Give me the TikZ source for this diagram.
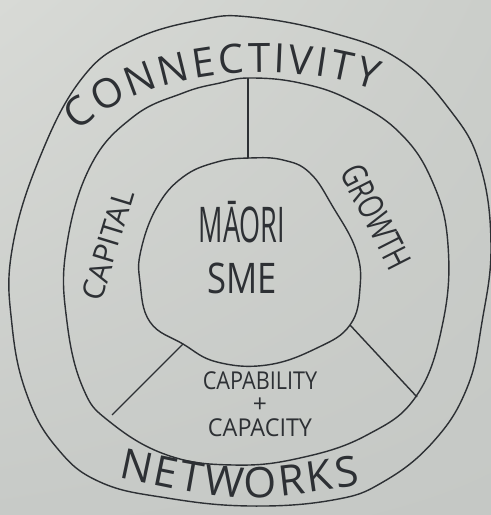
\documentclass[tikz,border=0pt]{standalone}
\usepackage{graphicx}
\usepackage{fontspec}
\newfontfamily\hand{Open Sans}
\usetikzlibrary{decorations.text, shadings}

\definecolor{boardA}{RGB}{216,218,214}
\definecolor{boardB}{RGB}{203,206,202}
\definecolor{boardC}{RGB}{199,202,199}
\definecolor{boardD}{RGB}{197,200,197}
\definecolor{ink}{RGB}{45,48,52}

\begin{document}
\begin{tikzpicture}[x=0.02cm, y=0.02cm,
  ring/.style={draw=ink, line width=0.8pt},
  word/.style={text=ink, inner sep=0pt}]

% Whiteboard
\shade[upper left=boardA, upper right=boardB, lower left=boardC, lower right=boardD]
  (0,0) rectangle (491,515);
\useasboundingbox (0,0) rectangle (491,515);

% Outer ring
\draw[ring] plot[smooth cycle, tension=0.7] coordinates {
  (250,498) (333,482) (400,455) (450,405) (480,350) (491,270)
  (482,193) (467,127) (433,73) (383,33) (333,15) (250,9) (167,17)
  (100,33) (57,67) (27,120) (12,190) (12,265) (40,358)
  (83,438) (133,475) (200,495)};

% Middle ring
\draw[ring] plot[smooth cycle, tension=0.7] coordinates {
  (250,437) (300,432) (350,415) (400,382) (433,332) (448,270)
  (443,193) (417,120) (367,80) (300,57) (233,50) (167,60) (110,93)
  (83,127) (67,193) (66,265) (90,348) (133,398) (183,422) (220,432)};

% Centre
\draw[ring] plot[smooth cycle, tension=0.7] coordinates {
  (250,357) (283,355) (310,342) (333,308) (356,265) (360,227)
  (350,190) (317,167) (267,150) (217,153) (183,171) (150,193) (140,233)
  (141,265) (157,308) (183,338) (217,353)};

% Spokes between centre and middle ring
\coordinate (topin) at (248,357);
\coordinate (topout) at (248,437);
\coordinate (leftin) at (183,171);
\coordinate (leftout) at (112,100);
\coordinate (rightin) at (350,190);
\coordinate (rightout) at (417,118);
\draw[ring] (topin) -- (topout);
\draw[ring] (leftin) -- (leftout);
\draw[ring] (rightin) -- (rightout);

% Text round the outer ring
\path[decorate, decoration={text along path, text color=ink, text align=fit to path,
  text={|\hand\fontsize{23}{23}\selectfont|CONNECTIVITY}}]
  (78,383) .. controls (150,450) and (290,455) .. (375,425);
\path[decorate, decoration={text along path, text color=ink, text align=fit to path,
  text={|\hand\fontsize{24}{24}\selectfont|NETWORKS}}]
  (118,38) .. controls (240,12) .. (360,30);

% Middle ring
\node[word, font=\hand\fontsize{17}{17}\selectfont, rotate=73] (capital) at (108,270) {CAPITAL};
\node[word, font=\hand\fontsize{20}{20}\selectfont, rotate=-63] (growth) at (376,298)
  {\scalebox{0.74}[1]{GROWTH}};
\node[word, font=\hand\fontsize{14}{13.5}\selectfont, align=center] (capab) at (260,111)
  {\scalebox{0.88}[1]{CAPABILITY}\\+\\\scalebox{0.95}[1]{CAPACITY}};

% Centre
\node[word, font=\hand\fontsize{28}{28}\selectfont] (maori) at (242,293) {\scalebox{0.55}[1]{MĀORI}};
\node[word, font=\hand\fontsize{24}{24}\selectfont] (sme) at (242,237) {\scalebox{0.82}[1]{SME}};
\end{tikzpicture}
\end{document}
